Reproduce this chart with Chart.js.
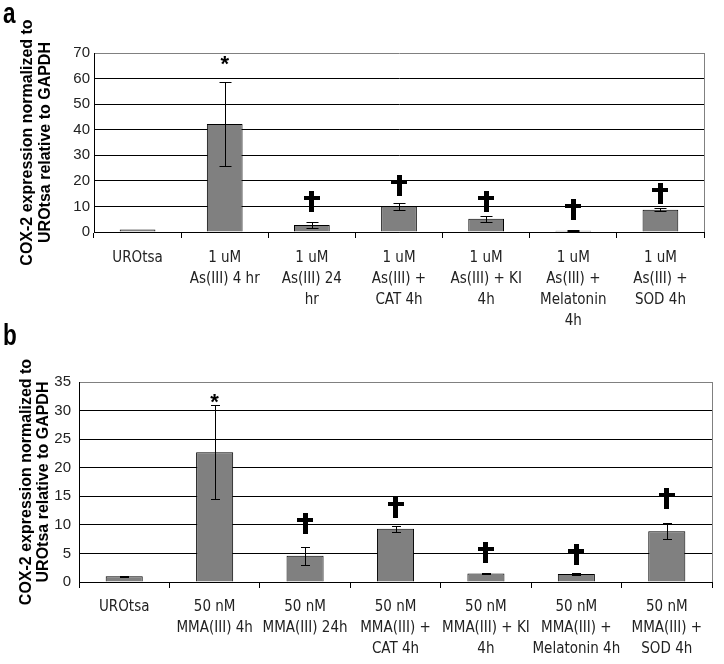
<!DOCTYPE html>
<html>
<head>
<meta charset="utf-8">
<script src="https://cdn.jsdelivr.net/npm/chart.js@4.4.1/dist/chart.umd.min.js"></script>
<style>
  html, body { margin: 0; padding: 0; background: #fff; }
  body { width: 724px; height: 664px; position: relative; overflow: hidden; }
  .panel { position: absolute; left: 0; width: 724px; }
  .tag { position: absolute; left: 3px; line-height: 1; font: bold 30px "Liberation Sans", Arial, sans-serif;
         transform: scaleX(0.75); transform-origin: left top; }
</style>
</head>
<body>
<div class="panel" style="top:0;height:340px"><canvas id="chartA" width="724" height="340"></canvas></div>
<div class="panel" style="top:320px;height:344px"><canvas id="chartB" width="724" height="344"></canvas></div>
<div class="tag" style="top:-4px">a</div>
<div class="tag" style="top:318px">b</div>
<script>
// panel a: As(III)
const labelsA = [
    'UROtsa',
    ['1 uM', 'As(III) 4 hr'],
    ['1 uM', 'As(III) 24', 'hr'],
    ['1 uM', 'As(III) +', 'CAT 4h'],
    ['1 uM', 'As(III) + KI', '4h'],
    ['1 uM', 'As(III) +', 'Melatonin', '4h'],
    ['1 uM', 'As(III) +', 'SOD 4h']
];
const meansA = [1.0, 42.2, 2.7, 10.0, 5.2, 0.5, 8.7];
const errorsA = [0, 16.5, 1.1, 1.3, 1.1, 0.15, 0.6];
const marksA = ['', '*', '†', '†', '†', '†', '†'];
const markPosA = [0, 67.7, 11.9, 18.2, 11.9, 8.8, 15.1];

// panel b: MMA(III)
const labelsB = [
    'UROtsa',
    ['50 nM', 'MMA(III) 4h'],
    ['50 nM', 'MMA(III) 24h'],
    ['50 nM', 'MMA(III) +', 'CAT 4h'],
    ['50 nM', 'MMA(III) + KI', '4h'],
    ['50 nM', 'MMA(III) +', 'Melatonin 4h'],
    ['50 nM', 'MMA(III) +', 'SOD 4h']
];
const meansB = [1.0, 22.7, 4.6, 9.3, 1.5, 1.4, 8.9];
const errorsB = [0.1, 8.2, 1.6, 0.55, 0.15, 0.1, 1.4];
const marksB = ['', '*', '†', '†', '†', '†', '†'];
const markPosB = [0, 32.5, 10.3, 13.1, 5.1, 4.9, 14.7];

const yTitle = ['COX-2 expression normalized to', 'UROtsa relative to GAPDH'];

/**
 * Error bars, significance marks and the grey right frame
 */
const marksPlugin = {
    id: 'marks',
    afterDatasetsDraw(chart) {
        const opts = chart.options.plugins.marks;
        const { ctx, chartArea } = chart;
        const xs = chart.scales.x;
        const ys = chart.scales.y;
        ctx.save();

        // right border of the plot area
        ctx.strokeStyle = '#808080';
        ctx.lineWidth = 1;
        ctx.beginPath();
        ctx.moveTo(Math.round(chartArea.right) + 0.5, chartArea.top);
        ctx.lineTo(Math.round(chartArea.right) + 0.5, chartArea.bottom);
        ctx.stroke();

        // error bars
        ctx.strokeStyle = '#000';
        opts.means.forEach((m, i) => {
            const e = opts.errors[i];
            if (!e) return;
            const cx = Math.round(xs.getPixelForValue(i)) + 0.5;
            const yt = Math.round(ys.getPixelForValue(m + e)) + 0.5;
            const yb = Math.round(ys.getPixelForValue(Math.max(m - e, 0))) + 0.5;
            const hw = opts.cap / 2;
            ctx.beginPath();
            ctx.moveTo(cx, yt); ctx.lineTo(cx, yb);
            ctx.moveTo(cx - hw, yt); ctx.lineTo(cx + hw, yt);
            ctx.moveTo(cx - hw, yb); ctx.lineTo(cx + hw, yb);
            ctx.stroke();
        });

        // * and dagger marks
        ctx.fillStyle = '#000';
        opts.symbols.forEach((s, i) => {
            if (!s) return;
            const cx = xs.getPixelForValue(i);
            const cy = ys.getPixelForValue(opts.positions[i]);
            if (s === '*') {
                ctx.font = 'bold 22px "Liberation Sans", Arial, sans-serif';
                ctx.textAlign = 'center';
                ctx.textBaseline = 'alphabetic';
                ctx.fillText('*', cx, cy + 12.5);
            } else {
                // dagger: thick stem with a crossbar near the top
                const h = 21, top = cy - h / 2;
                ctx.fillRect(Math.round(cx - 2.5), Math.round(top), 5, h);
                ctx.fillRect(Math.round(cx - 8), Math.round(top + 5), 16, 4);
            }
        });
        ctx.restore();
    }
};

function buildChart(canvasId, p) {
    const ctx = document.getElementById(canvasId).getContext('2d');
    return new Chart(ctx, {
        type: 'bar',
        data: {
            labels: p.labels,
            datasets: [{
                data: p.means,
                backgroundColor: '#808080',
                borderColor: '#000',
                borderWidth: 1,
                barPercentage: 0.41,
                categoryPercentage: 1.0
            }]
        },
        options: {
            responsive: false,
            animation: false,
            devicePixelRatio: 1,
            layout: { padding: { top: p.padTop, right: p.padRight, left: 0, bottom: 0 } },
            plugins: {
                legend: { display: false },
                tooltip: { enabled: false },
                marks: {
                    means: p.means,
                    errors: p.errors,
                    symbols: p.symbols,
                    positions: p.positions,
                    cap: p.cap
                }
            },
            scales: {
                x: {
                    offset: true,
                    grid: {
                        offset: true,
                        drawOnChartArea: false,
                        drawTicks: true,
                        tickLength: 6,
                        color: '#000'
                    },
                    border: { color: '#000', width: 1 },
                    ticks: {
                        color: '#222',
                        padding: p.xPad,
                        maxRotation: 0,
                        autoSkip: false,
                        font: { family: '"Liberation Sans Narrow", "DejaVu Sans Condensed", "Arial Narrow", sans-serif', size: 15, lineHeight: '21px' }
                    },
                    afterFit: (scale) => { scale.height = p.xHeight; }
                },
                y: {
                    min: 0,
                    max: p.yMax,
                    grid: {
                        drawTicks: false,
                        color: (c) => c.tick && c.tick.value === p.yMax ? '#808080' : '#000'
                    },
                    border: { color: '#000', width: 1 },
                    ticks: {
                        stepSize: p.yStep,
                        color: '#222',
                        padding: p.yPad,
                        font: { family: '"Liberation Sans", Arial, sans-serif', size: 15 }
                    },
                    title: {
                        display: true,
                        text: yTitle,
                        color: '#000',
                        padding: { top: p.titlePad, bottom: 0 },
                        font: { family: '"Liberation Sans", Arial, sans-serif', size: 16, weight: 'bold', lineHeight: p.titleLine }
                    },
                    afterFit: (scale) => { scale.width = p.yWidth; }
                }
            }
        },
        plugins: [marksPlugin]
    });
}

buildChart('chartA', {
    labels: labelsA, means: meansA, errors: errorsA, symbols: marksA, positions: markPosA,
    yMax: 70, yStep: 10, padTop: 53, padRight: 20, yWidth: 94, xHeight: 108,
    xPad: 10, yPad: 4, titlePad: 19, titleLine: '18px', cap: 12
});

buildChart('chartB', {
    labels: labelsB, means: meansB, errors: errorsB, symbols: marksB, positions: markPosB,
    yMax: 35, yStep: 5, padTop: 62, padRight: 12, yWidth: 79, xHeight: 82,
    xPad: 9, yPad: 8, titlePad: 18, titleLine: '17px', cap: 9
});
</script>
</body>
</html>
